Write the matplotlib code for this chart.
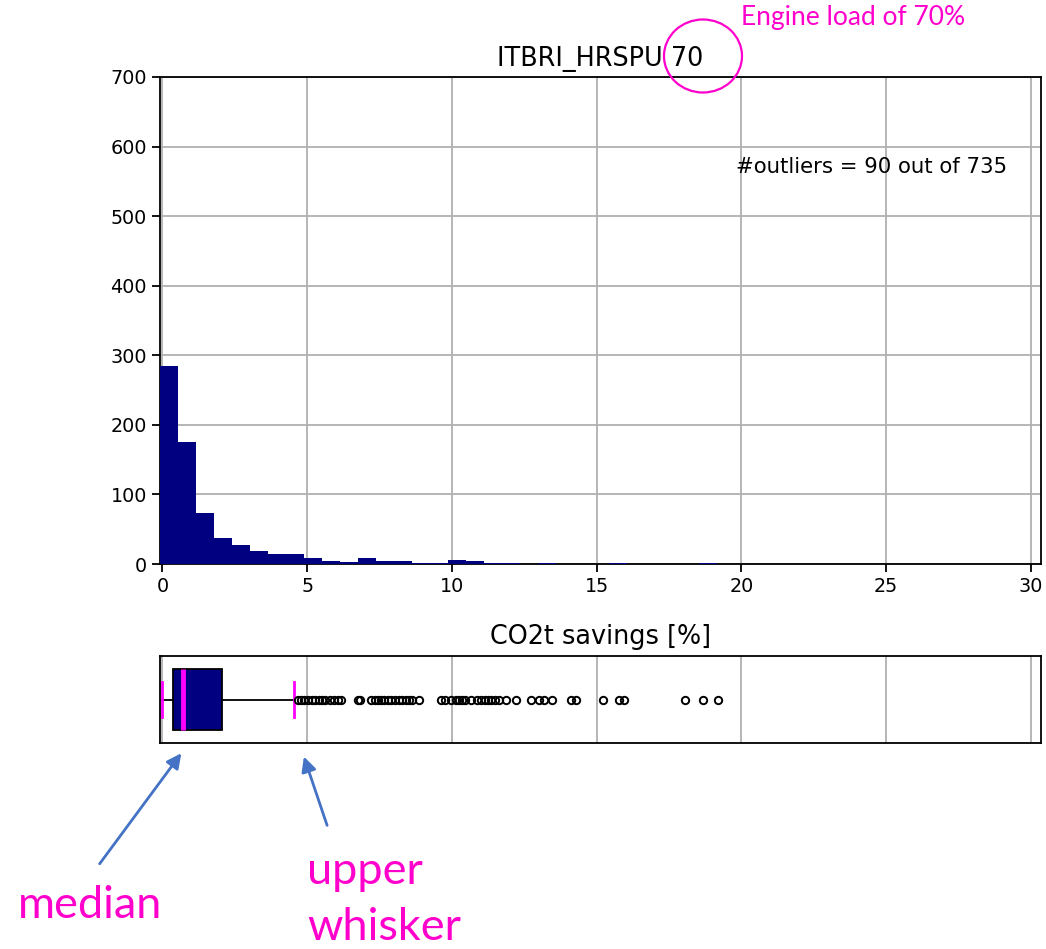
import numpy as np
import matplotlib
matplotlib.use("Agg")
import matplotlib.pyplot as plt
from matplotlib.patches import Ellipse, FancyArrowPatch

# histogram (bin start, bin width, counts per bin)
bin_start = -0.08
bin_width = 0.621
counts = [284, 175, 73, 37, 28, 18, 14, 15, 8, 5, 3, 8, 5, 5, 1, 1,
          6, 4, 2, 1, 0, 1, 0, 0, 0, 1, 0, 0, 0, 0, 1]

# box plot statistics
q1 = 0.37
med = 0.72
q3 = 2.07
whis_lo = 0.0
whis_hi = 4.56
outliers = [4.67, 4.79, 4.90, 5.02, 5.17, 5.28, 5.40, 5.52, 5.63, 5.80, 5.92,
            6.06, 6.17, 6.75, 6.82, 7.21, 7.33, 7.44, 7.56, 7.67, 7.79, 7.90,
            8.05, 8.17, 8.28, 8.40, 8.51, 8.63, 8.86, 9.63, 9.75, 9.96, 10.13,
            10.24, 10.36, 10.47, 10.65, 10.88, 11.02, 11.13, 11.25, 11.36,
            11.48, 11.63, 11.86, 12.20, 12.72, 13.01, 13.18, 13.47, 14.13,
            14.28, 15.21, 15.79, 15.93, 18.07, 18.69, 19.21]

title = "ITBRI_HRSPU 70"
xlabel = "CO2t savings [%]"
note = "#outliers = 90 out of 735"

W, H = 1046, 949
fig = plt.figure(figsize=(W / 100, H / 100), dpi=100)

def fbox(x0, y0, x1, y1):
    # pixel box (top-left origin) -> figure fraction rect
    return [x0 / W, 1 - y1 / H, (x1 - x0) / W, (y1 - y0) / H]

ax = fig.add_axes(fbox(160, 77, 1041, 564))
axb = fig.add_axes(fbox(160, 656, 1041, 743))

xlim = (-0.08, 30.35)

# ---- histogram ----
edges = bin_start + bin_width * np.arange(len(counts) + 1)
lefts = edges[:-1] + bin_width / 2
ax.hist(lefts, bins=edges, weights=counts, color="#000080", zorder=3)
ax.set_xlim(*xlim)
ax.set_ylim(0, 700)
ax.set_xticks(np.arange(0, 31, 5))
ax.set_yticks(np.arange(0, 701, 100))
ax.grid(True, color="#b0b0b0", lw=1.3, zorder=0)
ax.set_axisbelow(True)
ax.tick_params(labelsize=13.8, length=6, width=1.3)
ax.set_title(title, fontsize=18.4, pad=8)
ax.text(24.5, 570, note, fontsize=15.3, ha="center", va="center")

# ---- box plot ----
stats = [dict(med=med, q1=q1, q3=q3, whislo=whis_lo, whishi=whis_hi,
              fliers=outliers)]
axb.bxp(stats, positions=[1], widths=0.7, capwidths=0.4,
        orientation="horizontal", patch_artist=True,
        boxprops=dict(facecolor="#000080", edgecolor="black", lw=1.3),
        medianprops=dict(color="magenta", lw=3.5),
        capprops=dict(color="magenta", lw=2),
        whiskerprops=dict(color="black", lw=1.3),
        flierprops=dict(marker="o", markersize=5.3, markerfacecolor="none",
                        markeredgecolor="black", markeredgewidth=1.4))
axb.set_xlim(*xlim)
axb.set_ylim(0.5, 1.5)
axb.set_xticks(np.arange(0, 31, 5))
axb.set_yticks([])
axb.grid(True, axis="x", color="#b0b0b0", lw=1.3, zorder=0)
axb.set_axisbelow(True)
axb.tick_params(bottom=False, labelbottom=False)
axb.set_title(xlabel, fontsize=18.4, pad=9)

for a in (ax, axb):
    for s in a.spines.values():
        s.set_linewidth(1.3)

# ---- hand-drawn annotations ----
pink = "#ff00cc"
blue = "#4472c4"
fig.add_artist(Ellipse((703 / W, 1 - 56 / H), 78 / W, 73 / H,
                       transform=fig.transFigure, fill=False,
                       edgecolor=pink, lw=1.6))
fig.text(741 / W, 1 - 18 / H, "Engine load of 70%", color=pink,
         fontsize=19, family="Lato", va="center", ha="left")
fig.text(18 / W, 1 - 906 / H, "median", color=pink, fontsize=32.5,
         family="Lato", va="center", ha="left")
fig.text(307 / W, 1 - 872 / H, "upper", color=pink, fontsize=32.5,
         family="Lato", va="center", ha="left")
fig.text(307 / W, 1 - 927 / H, "whisker", color=pink, fontsize=32.5,
         family="Lato", va="center", ha="left")

for (x0, y0), (x1, y1) in [((98, 866), (183, 751)), ((328, 828), (303, 754))]:
    fig.add_artist(FancyArrowPatch((x0 / W, 1 - y0 / H), (x1 / W, 1 - y1 / H),
                                   transform=fig.transFigure,
                                   arrowstyle="-|>", mutation_scale=22,
                                   color=blue, lw=2))

fig.savefig("out.png", dpi=100)
